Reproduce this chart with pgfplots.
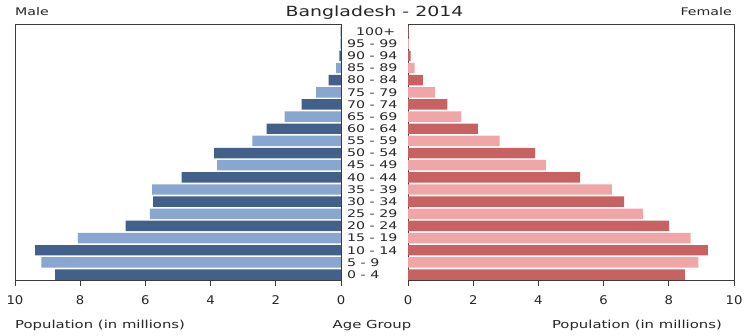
\documentclass[border=0pt]{standalone}
\usepackage{fontspec}
\setmainfont[FakeStretch=1.35]{DejaVu Sans}
\newfontfamily\tickfont[FakeStretch=1.1]{DejaVu Sans}
\usepackage{pgfplots}
\pgfplotsset{compat=1.18}
\usepackage{pgfplotstable}
\definecolor{mdark}{RGB}{66,96,138}
\definecolor{mlight}{RGB}{136,166,207}
\definecolor{fdark}{RGB}{200,98,98}
\definecolor{flight}{RGB}{240,166,166}
\definecolor{axgray}{RGB}{60,60,60}
\pgfplotstableread{
y x
0 8.77
2 9.38
4 6.61
6 5.76
8 4.89
10 3.89
12 2.28
14 1.21
16 0.38
18 0.05
20 0.01
}\maledark
\pgfplotstableread{
y x
1 9.19
3 8.07
5 5.86
7 5.79
9 3.80
11 2.72
13 1.73
15 0.76
17 0.15
19 0.02
}\malelight
\pgfplotstableread{
y x
0 8.49
2 9.20
4 8.01
6 6.63
8 5.28
10 3.90
12 2.14
14 1.21
16 0.46
18 0.08
20 0.02
}\femaledark
\pgfplotstableread{
y x
1 8.91
3 8.67
5 7.21
7 6.25
9 4.23
11 2.81
13 1.64
15 0.83
17 0.20
19 0.03
}\femalelight
\pgfplotsset{
  pyr/.style={
    scale only axis, width=326pt, height=256pt,
    xbar, bar width=0.86, bar shift=0pt,
    xmin=0, xmax=10, ymin=-0.45, ymax=20.62,
    xtick={0,2,4,6,8,10},
    tick align=outside, major tick length=6pt,
    xtick pos=bottom,
    tick style={axgray, line width=0.8pt},
    axis line style={axgray, line width=0.8pt},
    /pgf/number format/assume math mode=true,
    xticklabel style={font=\tickfont\fontsize{12}{13}\selectfont, text=black!85, yshift=-6pt},
    clip=false,
  }
}
\begin{document}
\begin{tikzpicture}
\begin{axis}[pyr, name=L, x dir=reverse, ytick=\empty]
  \addplot[fill=mdark, draw=none] table[x=x, y=y] {\maledark};
  \addplot[fill=mlight, draw=none] table[x=x, y=y] {\malelight};
\end{axis}
\begin{axis}[pyr, name=R, at={(L.south east)}, anchor=south west, xshift=67pt,
  ytick={0,...,20},
  yticklabels={0 - 4,5 - 9,10 - 14,15 - 19,20 - 24,25 - 29,30 - 34,35 - 39,40 - 44,45 - 49,50 - 54,55 - 59,60 - 64,65 - 69,70 - 74,75 - 79,80 - 84,85 - 89,90 - 94,95 - 99,\phantom{0}100+},
  ytick style={draw=none}, ytick pos=left,
  yticklabel style={anchor=west, xshift=-55pt, font=\fontsize{10.5}{12}\selectfont, text=black!85, inner sep=0pt}]
  \addplot[fill=fdark, draw=none] table[x=x, y=y] {\femaledark};
  \addplot[fill=flight, draw=none] table[x=x, y=y] {\femalelight};
\end{axis}
\node[anchor=base, font=\fontsize{14}{15}\selectfont, text=black!85] at ([xshift=33.5pt, yshift=7pt]L.north east) {Bangladesh - 2014};
\node[anchor=base west, font=\fontsize{10.5}{12}\selectfont, text=black!85, inner sep=0pt] at ([yshift=8pt]L.north west) {Male};
\node[anchor=base east, font=\fontsize{10.5}{12}\selectfont, text=black!85, inner sep=0pt] at ([xshift=-2pt, yshift=8pt]R.north east) {Female};
\node[anchor=base west, font=\fontsize{11}{12}\selectfont, text=black!85, inner sep=0pt] at ([yshift=-49pt]L.south west) {Population (in millions)};
\node[anchor=base, font=\fontsize{11}{12}\selectfont, text=black!85, inner sep=0pt] at ([xshift=31pt, yshift=-49pt]L.south east) {Age Group};
\node[anchor=base east, font=\fontsize{11}{12}\selectfont, text=black!85, inner sep=0pt] at ([xshift=-12pt, yshift=-49pt]R.south east) {Population (in millions)};
\path ([xshift=-15pt, yshift=-56pt]L.south west) rectangle ([xshift=13pt, yshift=24pt]R.north east);
\end{tikzpicture}
\end{document}
